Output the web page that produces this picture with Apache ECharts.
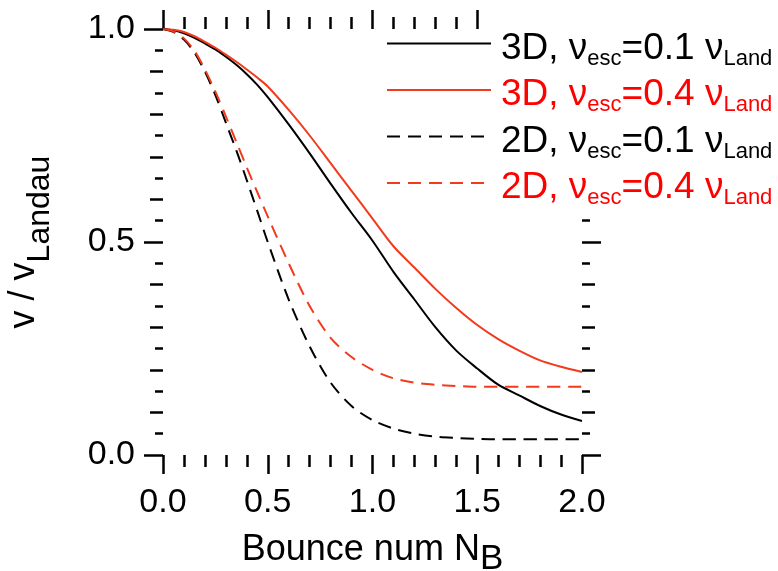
<!DOCTYPE html>
<html>
<head>
<meta charset="utf-8">
<script src="https://cdn.jsdelivr.net/npm/echarts@6/dist/echarts.min.js"></script>
<style>html,body{margin:0;padding:0;background:#fff}#c{width:778px;height:571px}</style>
</head>
<body>
<div id="c"></div>
<script>
var xValues = [0, 0.05, 0.1, 0.15, 0.2, 0.25, 0.3, 0.35, 0.4, 0.45, 0.5, 0.6, 0.7, 0.8, 0.9, 1.0, 1.1, 1.2, 1.3, 1.4, 1.5, 1.6, 1.7, 1.8, 1.9, 2.0];
var black3D = [1.0, 0.997, 0.99, 0.979, 0.966, 0.952, 0.935, 0.916, 0.894, 0.869, 0.84, 0.776, 0.708, 0.637, 0.568, 0.503, 0.43, 0.365, 0.30, 0.245, 0.203, 0.165, 0.14, 0.115, 0.095, 0.08];
var red3D   = [1.0, 0.998, 0.993, 0.983, 0.97, 0.956, 0.94, 0.923, 0.905, 0.886, 0.865, 0.81, 0.75, 0.685, 0.62, 0.555, 0.49, 0.44, 0.39, 0.345, 0.305, 0.272, 0.245, 0.222, 0.207, 0.195];
var black2D = [1.0, 0.993, 0.975, 0.945, 0.90, 0.845, 0.78, 0.715, 0.645, 0.573, 0.50, 0.365, 0.255, 0.17, 0.115, 0.082, 0.062, 0.05, 0.043, 0.04, 0.038, 0.037, 0.037, 0.037, 0.037, 0.037];
var red2D   = [1.0, 0.994, 0.978, 0.949, 0.905, 0.853, 0.795, 0.735, 0.675, 0.617, 0.56, 0.45, 0.35, 0.275, 0.23, 0.20, 0.18, 0.17, 0.165, 0.162, 0.16, 0.16, 0.16, 0.16, 0.16, 0.16];
var seriesNames = ['3D 0.1', '3D 0.4', '2D 0.1', '2D 0.4'];
var legendDim = ['3D', '3D', '2D', '2D'];
var legendEsc = ['0.1', '0.4', '0.1', '0.4'];
var xTickLabels = ['0.0', '0.5', '1.0', '1.5', '2.0'];
var yTickLabels = ['0.0', '0.5', '1.0'];

var RED = '#f23a1c';
var TXTRED = '#ff0000';
var SANS = "'Liberation Sans',Arial,sans-serif";

function pairs(ys){ return xValues.map(function(x,i){ return [x, ys[i]]; }); }

var chart = echarts.init(document.getElementById('c'), null, {renderer:'canvas'});

var tickStyle = {color:'#000', width:2.5};
function xAx(pos, labels){
  return {
    type:'value', position:pos, min:0, max:2, interval:0.5,
    axisLine:{show:false, onZero:false}, splitLine:{show:false},
    axisTick:{show:true, length:19, lineStyle:tickStyle},
    minorTick:{show:true, splitNumber:5, length:12, lineStyle:tickStyle},
    minorSplitLine:{show:false},
    axisLabel:{show:labels, margin:31, fontSize:34, fontFamily:SANS, color:'#000',
      formatter:function(v){ return xTickLabels[Math.round(v/0.5)]; }}
  };
}
function yAxMajor(pos, labels){
  return {
    type:'value', position:pos, min:0, max:1, interval:0.5,
    axisLine:{show:false, onZero:false}, splitLine:{show:false},
    axisTick:{show:true, length:19, lineStyle:tickStyle},
    axisLabel:{show:labels, margin:28, fontSize:34, fontFamily:SANS, color:'#000',
      formatter:function(v){ return yTickLabels[Math.round(v/0.5)]; }}
  };
}
function yAxMinor(pos){
  return {
    type:'value', position:pos, min:0, max:1, interval:0.1,
    axisLine:{show:false, onZero:false}, splitLine:{show:false},
    axisTick:{show:true, length:13, lineStyle:tickStyle},
    minorTick:{show:true, splitNumber:2, length:8, lineStyle:tickStyle},
    minorSplitLine:{show:false},
    axisLabel:{show:false}
  };
}

var xa0 = xAx('bottom', true);
xa0.name = '{m|Bounce num N}{s|B}';
xa0.nameLocation = 'middle';
xa0.nameGap = 68;
xa0.nameTextStyle = {color:'#000', fontFamily:SANS, rich:{
  m:{fontSize:36, fontFamily:SANS, color:'#000', lineHeight:54},
  s:{fontSize:35, fontFamily:SANS, color:'#000', lineHeight:20, verticalAlign:'bottom'}
}};
var xa1 = xAx('top', false);

var ya0 = yAxMajor('left', true);
ya0.name = '{m|v / v}{s|Landau}';
ya0.nameLocation = 'middle';
ya0.nameGap = 107;
ya0.nameTextStyle = {color:'#000', fontFamily:SANS, rich:{
  m:{fontSize:36, fontFamily:SANS, color:'#000', lineHeight:64},
  s:{fontSize:32, fontFamily:SANS, color:'#000', lineHeight:20, verticalAlign:'bottom'}
}};

var yAxes = [ya0, yAxMinor('left'), yAxMajor('right', false), yAxMinor('right')];

function mkSeries(i, ys, color, dashed){
  return {
    name: seriesNames[i], type:'line', data: pairs(ys), xAxisIndex:0, yAxisIndex:0,
    showSymbol:false, symbol:'none', smooth:0.3, silent:true, animation:false,
    lineStyle:{color:color, width:2, type: dashed ? [13,8] : 'solid'},
    itemStyle:{color:color}
  };
}

var legendData = seriesNames.map(function(n,i){
  return {name:n, textStyle:{color: (i%2===1) ? TXTRED : '#000'}};
});

chart.setOption({
  animation:false,
  grid:{left:163, right:196, top:29, bottom:116, containLabel:false, outerBoundsMode:'none'},
  xAxis:[xa0, xa1],
  yAxis:yAxes,
  graphic:[{type:'rect', z:50, silent:true, shape:{x:495, y:0, width:283, height:214}, style:{fill:'#fff'}}],
  legend:{
    data:legendData, orient:'vertical', left:386, top:30, padding:0, z:100,
    itemWidth:104, itemHeight:14, itemGap:7, selectedMode:false,
    itemStyle:{opacity:0, borderWidth:0},
    textStyle:{fontFamily:SANS, fontSize:37, padding:[10,0,0,5],
      rich:{
        a:{fontSize:37, fontFamily:SANS, lineHeight:42},
        s:{fontSize:22, fontFamily:SANS, lineHeight:20, verticalAlign:'bottom'}
      }},
    formatter:function(name){
      var i = seriesNames.indexOf(name);
      return '{a|' + legendDim[i] + ', ν}{s|esc}{a|=' + legendEsc[i] + ' ν}{s|Land}';
    }
  },
  series:[
    mkSeries(0, black3D, '#000', false),
    mkSeries(1, red3D, RED, false),
    mkSeries(2, black2D, '#000', true),
    mkSeries(3, red2D, RED, true)
  ]
});
</script>
</body>
</html>
